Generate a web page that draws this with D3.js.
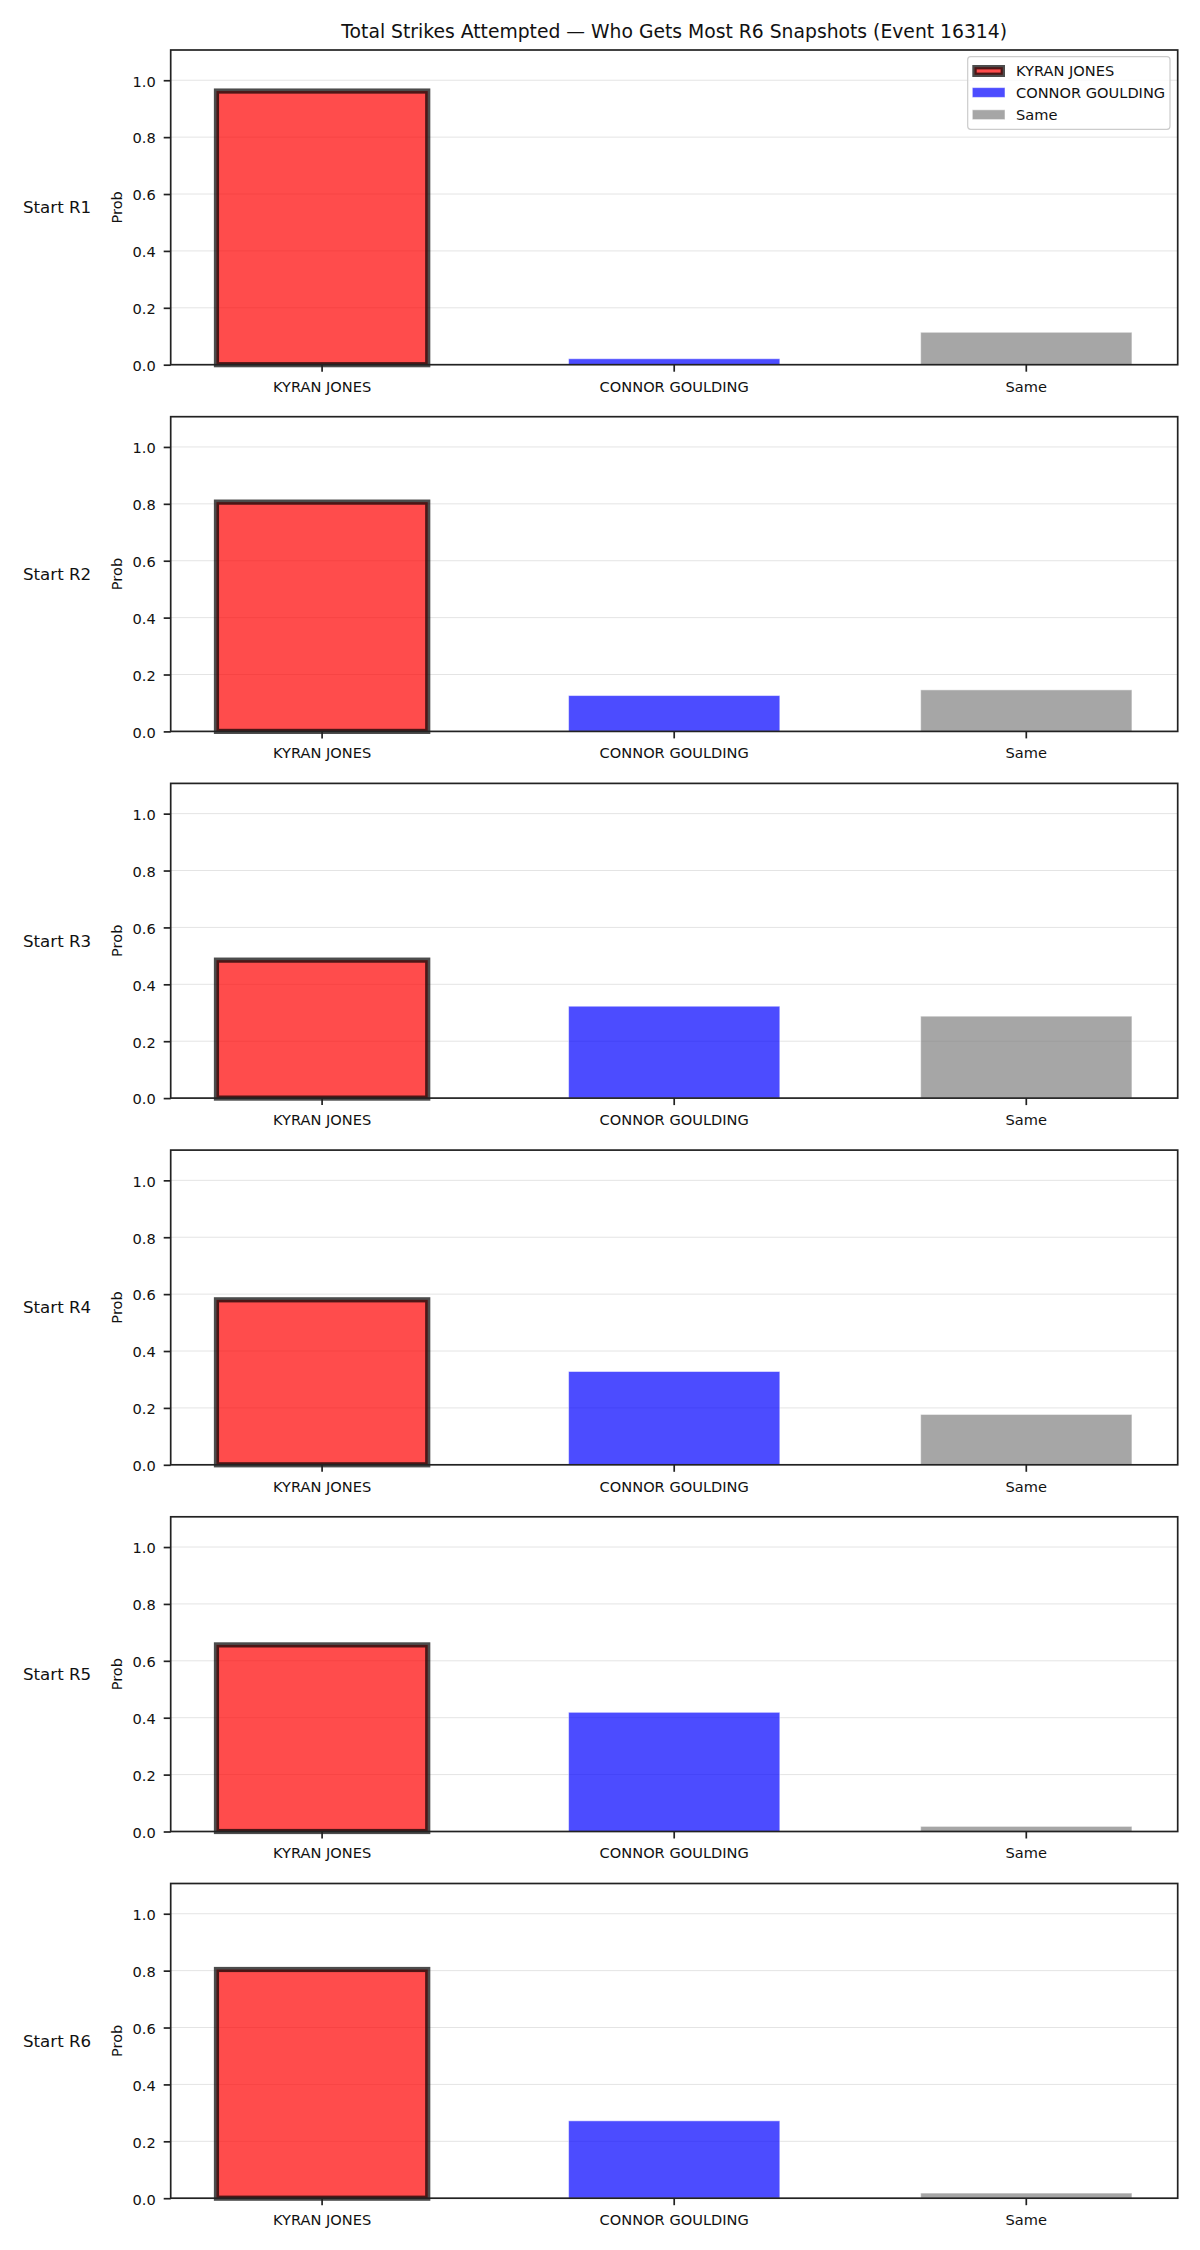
<!DOCTYPE html>
<html>
<head>
<meta charset="utf-8">
<script src="https://cdn.jsdelivr.net/npm/d3@7"></script>
<style>
  html, body { margin: 0; padding: 0; background: #fff; }
  svg { display: block; font-family: "DejaVu Sans", sans-serif; }
</style>
</head>
<body>
<svg id="chart" width="1200" height="2250"></svg>
<script>
// ---- data ----
const title = "Total Strikes Attempted — Who Gets Most R6 Snapshots (Event 16314)";
const categories = ["KYRAN JONES", "CONNOR GOULDING", "Same"];
const panelLabels = ["Start R1", "Start R2", "Start R3", "Start R4", "Start R5", "Start R6"];
const kyranJones     = [0.962, 0.806, 0.485, 0.580, 0.656, 0.804];
const connorGoulding = [0.021, 0.126, 0.323, 0.328, 0.419, 0.272];
const same           = [0.114, 0.146, 0.288, 0.177, 0.018, 0.018];
const yTicks = [0.0, 0.2, 0.4, 0.6, 0.8, 1.0];
const yLabel = "Prob";

const seriesColors = ["#ff0000", "#0000ff", "#808080"];

// ---- layout ----
const svg = d3.select("#chart");
const left = 170.7, right = 1177.7;
const firstTop = 50, panelH = 314.7, panelStep = 366.7;
const smallFont = 14.6;

const x = d3.scaleBand().domain(categories).range([left, right])
  .paddingInner(0.4).paddingOuter(0.13);

const allVals = kyranJones.concat(connorGoulding, same);
const yMax = d3.max(allVals) * 1.15;

svg.append("text")
  .attr("x", (left + right) / 2).attr("y", 37.5)
  .attr("text-anchor", "middle")
  .attr("font-size", 18.75).attr("fill", "#111")
  .text(title);

panelLabels.forEach((lab, i) => {
  const top = firstTop + i * panelStep;
  const bottom = top + panelH;
  const y = d3.scaleLinear().domain([0, yMax]).range([bottom, top]);
  const vals = [kyranJones[i], connorGoulding[i], same[i]];
  const leader = d3.maxIndex(vals);
  const g = svg.append("g");

  // grid
  g.selectAll("line.grid").data(yTicks).join("line")
    .attr("x1", left).attr("x2", right)
    .attr("y1", d => y(d)).attr("y2", d => y(d))
    .attr("stroke", "#e4e4e4").attr("stroke-width", 1);

  // bars
  g.selectAll("rect.bar").data(vals).join("rect")
    .attr("x", (d, j) => x(categories[j]))
    .attr("width", x.bandwidth())
    .attr("y", d => y(d))
    .attr("height", d => y(0) - y(d))
    .attr("fill", (d, j) => seriesColors[j])
    .attr("fill-opacity", 0.7)
    .attr("stroke", (d, j) => j === leader ? "#000" : "#fff")
    .attr("stroke-opacity", (d, j) => j === leader ? 0.7 : 0.5)
    .attr("stroke-width", (d, j) => j === leader ? 5.2 : 1);

  // axes
  const yAxis = d3.axisLeft(y).tickValues(yTicks).tickFormat(d3.format(".1f"))
    .tickSize(7).tickPadding(8);
  const ya = g.append("g").attr("transform", `translate(${left},0)`).call(yAxis);
  ya.select(".domain").remove();
  ya.selectAll(".tick line").attr("stroke", "#222").attr("stroke-width", 1.7);
  ya.selectAll(".tick text").attr("font-size", smallFont).attr("fill", "#111")
    .attr("font-family", "DejaVu Sans").attr("dy", "0.4em");

  const xAxis = d3.axisBottom(x).tickSize(7).tickPadding(9.5);
  const xa = g.append("g").attr("transform", `translate(0,${bottom})`).call(xAxis);
  xa.select(".domain").remove();
  xa.selectAll(".tick line").attr("stroke", "#222").attr("stroke-width", 1.7);
  xa.selectAll(".tick text").attr("font-size", smallFont).attr("fill", "#111")
    .attr("font-family", "DejaVu Sans");

  // spines
  g.append("rect")
    .attr("x", left).attr("y", top)
    .attr("width", right - left).attr("height", bottom - top)
    .attr("fill", "none").attr("stroke", "#222").attr("stroke-width", 1.7);

  // y label
  g.append("text")
    .attr("transform", `translate(122,${(top + bottom) / 2}) rotate(-90)`)
    .attr("text-anchor", "middle")
    .attr("font-size", smallFont).attr("fill", "#111")
    .text(yLabel);

  // row label
  g.append("text")
    .attr("x", 23).attr("y", (top + bottom) / 2 + 6)
    .attr("font-size", 16.67).attr("fill", "#111")
    .text(lab);

  // legend in first panel
  if (i === 0) {
    const lg = g.append("g");
    lg.append("rect")
      .attr("x", 967.7).attr("y", 56.7).attr("width", 202.3).attr("height", 72.6)
      .attr("rx", 3).attr("fill", "#fff").attr("fill-opacity", 0.8)
      .attr("stroke", "#cccccc").attr("stroke-width", 1.2);
    const rowsY = [71, 92.5, 114.7];
    categories.forEach((c, j) => {
      const cy = rowsY[j];
      if (j === 0) {
        lg.append("rect")
          .attr("x", 974.5).attr("y", cy - 3.8).attr("width", 28.3).attr("height", 7.6)
          .attr("fill", seriesColors[j]).attr("fill-opacity", 0.7)
          .attr("stroke", "#000").attr("stroke-opacity", 0.7).attr("stroke-width", 4.4);
      } else {
        lg.append("rect")
          .attr("x", 972.3).attr("y", cy - 4.9).attr("width", 32.7).attr("height", 9.8)
          .attr("fill", seriesColors[j]).attr("fill-opacity", 0.7)
          .attr("stroke", "#fff").attr("stroke-opacity", 0.5).attr("stroke-width", 1);
      }
      lg.append("text")
        .attr("x", 1016).attr("y", cy + 5.2)
        .attr("font-size", smallFont).attr("fill", "#111")
        .text(c);
    });
  }
});
</script>
</body>
</html>
